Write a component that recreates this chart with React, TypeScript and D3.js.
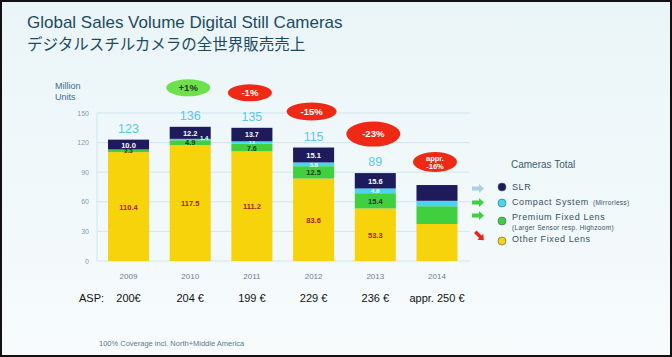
import React from "react";
import * as d3 from "d3";

const years = ["2009", "2010", "2011", "2012", "2013", "2014"];
const slr = [10.0, 12.2, 13.7, 15.1, 15.6, 16.0];
const compact = [0.3, 1.4, 2.5, 3.8, 4.8, 5.5];
const premium = [2.3, 4.9, 7.6, 12.5, 15.4, 18.0];
const other = [110.4, 117.5, 111.2, 83.6, 53.3, 37.5];
const totals = ["123", "136", "135", "115", "89", ""];
const showLabels = [true, true, true, true, true, false];
const compactLabels = ["", "1.4", "2.5", "3.8", "4.8", ""];
const changes = ["", "+1%", "-1%", "-15%", "-23%", "appr.|-16%"];
const asp = ["200€", "204 €", "199 €", "229 €", "236 €", "appr. 250 €"];
const yTicks = [0, 30, 60, 90, 120, 150];
const legendItems = ["SLR", "Compact System", "Premium Fixed Lens", "Other Fixed Lens"];

const COLORS = {
  other: "#f6d30a",
  premium: "#3fcf3f",
  compact: "#45d6f2",
  slr: "#1d1b5c",
};

export default function App() {
  const W = 672, H = 357;
  const x = d3.scaleBand<string>().domain(years).range([98, 467.5]).paddingInner(0.335).paddingOuter(0.162);
  const y = d3.scaleLinear().domain([0, 150]).range([261, 113]);
  const font = "Arial, 'Liberation Sans', sans-serif";

  const stack = years.map((yr, i) => {
    const segs = [
      { key: "other", v: other[i], color: COLORS.other },
      { key: "premium", v: premium[i], color: COLORS.premium },
      { key: "compact", v: compact[i], color: COLORS.compact },
      { key: "slr", v: slr[i], color: COLORS.slr },
    ];
    let acc = 0;
    return segs.map((s) => {
      const y0 = acc;
      acc += s.v;
      return { ...s, y0, y1: acc };
    });
  });

  const badgeSizes = [
    null,
    { rx: 22, ry: 8.5, c: "#6ee04a", dy: -39 },
    { rx: 22, ry: 8.5, c: "#ee2a16", dy: -35 },
    { rx: 25, ry: 9, c: "#ee2a16", dy: -36 },
    { rx: 27, ry: 12.5, c: "#ee2a16", dy: -39 },
    { rx: 22, ry: 10, c: "#ee2a16", dy: -23 },
  ];

  return (
    <svg width={W} height={H} style={{ display: "block", position: "absolute", left: 0, top: 0 }}>
      <defs>
        <linearGradient id="bg" x1="0" y1="0" x2="0" y2="1">
          <stop offset="0" stopColor="#eaf5f8" />
          <stop offset="1" stopColor="#f7fbfc" />
        </linearGradient>
      </defs>
      <rect x={0} y={0} width={W} height={H} fill="url(#bg)" />
      <rect x={1} y={1} width={W - 2} height={H - 2} fill="none" stroke="#111" strokeWidth={2} />

      <text x={27} y={28} fontFamily={font} fontSize={17} fill="#1d4a5e">Global Sales Volume Digital Still Cameras</text>
      <text x={27} y={50} fontFamily="'Noto Sans CJK JP', sans-serif" fontSize={15.5} fill="#1d4a5e">デジタルスチルカメラの全世界販売売上</text>

      <text x={55} y={89} fontFamily={font} fontSize={9} fill="#3a6f8e">Million</text>
      <text x={55} y={100} fontFamily={font} fontSize={9} fill="#3a6f8e">Units</text>

      {yTicks.map((t) => (
        <g key={t}>
          <line x1={97} x2={470} y1={y(t)} y2={y(t)} stroke="#cfe6ee" strokeWidth={1} />
          <text x={89} y={y(t) + 2.5} textAnchor="end" fontFamily={font} fontSize={7} fill="#7aa0b4">{t}</text>
        </g>
      ))}
      <line x1={97} x2={97} y1={113} y2={261} stroke="#cfe6ee" strokeWidth={1} />

      {stack.map((segs, i) => {
        const x0 = x(years[i])!;
        const bw = x.bandwidth();
        const cx = x0 + bw / 2;
        const top = y(segs[3].y1);
        return (
          <g key={years[i]}>
            {segs.map((s) => (
              <rect key={s.key} x={x0} width={bw} y={y(s.y1)} height={y(s.y0) - y(s.y1)} fill={s.color} />
            ))}
            {showLabels[i] && (
              <g fontFamily={font} fontWeight="bold" textAnchor="middle">
                <text x={cx} y={(y(segs[0].y0) + y(segs[0].y1)) / 2 + 3} fontSize={7.5} fill="#a8231a">{other[i].toFixed(1)}</text>
                <text x={cx} y={i === 0 ? y(segs[1].y0) + 1 : (y(segs[1].y0) + y(segs[1].y1)) / 2 + (i === 2 ? 3.8 : 2.8)} fontSize={i === 0 ? 6 : i === 2 ? 7 : 7.5} fill="#1b3a1b">{premium[i].toFixed(1)}</text>
                {compactLabels[i] && (
                  <text x={i === 1 ? cx + 14 : cx} y={(y(segs[2].y0) + y(segs[2].y1)) / 2 + (i === 1 ? 0 : i === 2 ? 1.2 : 2.2)} fontSize={i === 2 ? 4 : 6} fill="#ffffff">{compactLabels[i]}</text>
                )}
                <text x={cx} y={(y(segs[3].y0) + y(segs[3].y1)) / 2 + (i === 2 ? 2 : 3)} fontSize={i === 2 ? 7 : 7.5} fill="#ffffff">{slr[i].toFixed(1)}</text>
              </g>
            )}
            {totals[i] && (
              <text x={cx} y={top - 7} textAnchor="middle" fontFamily={font} fontSize={12.5} fill="#5cc8e6">{totals[i]}</text>
            )}
            {badgeSizes[i] && (() => {
              const b = badgeSizes[i]!;
              const by = top + b.dy;
              const parts = changes[i].split("|");
              return (
                <g>
                  <ellipse cx={cx - 2} cy={by} rx={b.rx} ry={b.ry} fill={b.c} />
                  {parts.length === 1 ? (
                    <text x={cx - 2} y={by + 3.3} textAnchor="middle" fontFamily={font} fontWeight="bold" fontSize={9.5} fill={i === 1 ? "#1d3a1d" : "#ffffff"}>{parts[0]}</text>
                  ) : (
                    <g>
                      <text x={cx - 2} y={by - 1} textAnchor="middle" fontFamily={font} fontWeight="bold" fontSize={7.5} fill="#ffffff">{parts[0]}</text>
                      <text x={cx - 2} y={by + 7} textAnchor="middle" fontFamily={font} fontWeight="bold" fontSize={7.5} fill="#ffffff">{parts[1]}</text>
                    </g>
                  )}
                </g>
              );
            })()}
            <text x={cx} y={279} textAnchor="middle" fontFamily={font} fontSize={8} fill="#6a8090">{years[i]}</text>
            <text x={cx} y={302} textAnchor="middle" fontFamily={font} fontSize={11} fill="#111">{asp[i]}</text>
          </g>
        );
      })}

      <text x={79} y={302} fontFamily={font} fontSize={11} fill="#111">ASP:</text>

      {/* Legend */}
      <text x={511} y={168} fontFamily={font} fontSize={10} fill="#3b5a6c">Cameras Total</text>
      <g>
        <path d="M472,186.5 h7 v-2.5 l5,4.5 l-5,4.5 v-2.5 h-7 z" fill="#a9cfe0" />
        <path d="M472,200.5 h7 v-2.5 l5,4.5 l-5,4.5 v-2.5 h-7 z" fill="#3fcf3f" />
        <path d="M472,213.5 h7 v-2.5 l5,4.5 l-5,4.5 v-2.5 h-7 z" fill="#3fcf3f" />
        <path d="M474,233 l2.5,-2.5 l5,5 l1.8,-1.8 l0.5,6.5 l-6.5,-0.5 l1.8,-1.8 z" fill="#e8241a" />
      </g>
      {legendItems.map((name, i) => {
        const cy = [187, 203, 221, 241][i];
        const col = [COLORS.slr, COLORS.compact, COLORS.premium, COLORS.other][i];
        return (
          <g key={name}>
            <circle cx={502} cy={cy} r={4} fill={col} stroke="#4a5a6a" strokeWidth={0.6} />
            <text x={512} y={[190, 205, 220, 242][i]} fontFamily={font} fontSize={9} fill="#34505f" letterSpacing={0.6}>
              {name}
              {i === 1 && <tspan fontSize={6.5} dx={4} letterSpacing={0.3}>(Mirrorless)</tspan>}
            </text>
          </g>
        );
      })}
      <text x={512} y={230} fontFamily={font} fontSize={6.5} fill="#34505f" letterSpacing={0.3}>(Larger Sensor resp. Highzoom)</text>

      <text x={99} y={346} fontFamily={font} fontSize={7.5} fill="#5a7a90">100% Coverage incl. North+Middle America</text>
    </svg>
  );
}
